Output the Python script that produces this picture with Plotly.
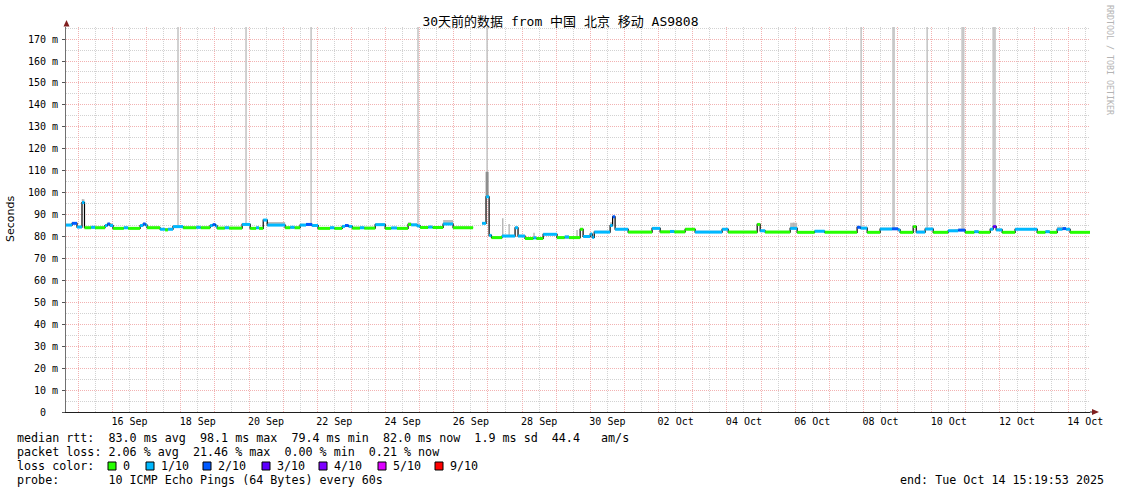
import plotly.graph_objects as go
import pandas as pd

# ---------------- data ----------------
START = "2025-09-14 15:19:53"
END = "2025-10-14 15:19:53"

# median rtt steps (segment start time, median ms, loss class index, smoke top ms)
seg_start = [
    "2025-09-14 15:20", "2025-09-14 19:35", "2025-09-14 23:05", "2025-09-15 02:35", "2025-09-15 04:20",
    "2025-09-15 09:00", "2025-09-15 11:45", "2025-09-15 18:45", "2025-09-15 20:30", "2025-09-15 22:15",
    "2025-09-16 00:25", "2025-09-16 08:00", "2025-09-16 11:00", "2025-09-16 19:25", "2025-09-16 21:30",
    "2025-09-16 23:15", "2025-09-17 00:20", "2025-09-17 09:30", "2025-09-17 13:00", "2025-09-17 15:00",
    "2025-09-17 18:35", "2025-09-18 01:40", "2025-09-18 11:00", "2025-09-18 14:00", "2025-09-18 20:40",
    "2025-09-18 22:30", "2025-09-19 00:30", "2025-09-19 01:35", "2025-09-19 07:00", "2025-09-19 10:00",
    "2025-09-19 19:10", "2025-09-20 00:50", "2025-09-20 05:00", "2025-09-20 07:00", "2025-09-20 10:00",
    "2025-09-20 12:50", "2025-09-21 01:25", "2025-09-21 05:00", "2025-09-21 08:00", "2025-09-21 11:55",
    "2025-09-21 16:05", "2025-09-21 20:20", "2025-09-22 00:35", "2025-09-22 09:00", "2025-09-22 12:00",
    "2025-09-22 17:30", "2025-09-22 19:30", "2025-09-22 22:00", "2025-09-23 00:35", "2025-09-23 06:00",
    "2025-09-23 09:00", "2025-09-23 16:45", "2025-09-23 23:45", "2025-09-24 04:00", "2025-09-24 08:00",
    "2025-09-24 15:50", "2025-09-24 18:00", "2025-09-24 22:10", "2025-09-25 00:20", "2025-09-25 06:00",
    "2025-09-25 09:00", "2025-09-25 16:30", "2025-09-25 23:30", "2025-09-26 13:35", "2025-09-26 19:55",
    "2025-09-26 22:40", "2025-09-27 00:50", "2025-09-27 02:30", "2025-09-27 09:55", "2025-09-27 19:05",
    "2025-09-27 21:10", "2025-09-28 02:05", "2025-09-28 08:00", "2025-09-28 10:00", "2025-09-28 14:50",
    "2025-09-29 00:35", "2025-09-29 06:00", "2025-09-29 09:00", "2025-09-29 16:50", "2025-09-29 18:55",
    "2025-09-29 23:55", "2025-09-30 01:20", "2025-09-30 02:45", "2025-09-30 13:55", "2025-09-30 15:40",
    "2025-09-30 17:25", "2025-10-01 02:35", "2025-10-01 19:25", "2025-10-02 01:05", "2025-10-02 08:00",
    "2025-10-02 11:00", "2025-10-02 18:40", "2025-10-03 01:40", "2025-10-03 20:40", "2025-10-04 00:55",
    "2025-10-04 21:20", "2025-10-04 23:25", "2025-10-05 02:55", "2025-10-05 20:30", "2025-10-06 01:25",
    "2025-10-06 13:45", "2025-10-06 20:45", "2025-10-07 19:35", "2025-10-07 22:00", "2025-10-08 02:40",
    "2025-10-08 11:45", "2025-10-08 20:10", "2025-10-09 00:25", "2025-10-09 01:50", "2025-10-09 11:00",
    "2025-10-09 13:10", "2025-10-09 19:25", "2025-10-10 01:05", "2025-10-10 11:35", "2025-10-10 18:40",
    "2025-10-10 23:35", "2025-10-11 06:00", "2025-10-11 09:00", "2025-10-11 17:10", "2025-10-11 19:15",
    "2025-10-11 21:20", "2025-10-12 01:35", "2025-10-12 10:40", "2025-10-13 02:10", "2025-10-13 08:00",
    "2025-10-13 11:00", "2025-10-13 16:15", "2025-10-13 20:00", "2025-10-13 22:30", "2025-10-14 01:20",
]
seg_median = [
    85.2, 86.0, 84.3, 95.5, 84.0,
    84.2, 84.0, 85.0, 85.7, 85.0,
    83.7, 84.0, 83.7, 85.0, 85.7,
    85.2, 84.0, 83.3, 83.0, 83.3,
    84.5, 84.0, 84.2, 84.0, 85.0,
    85.4, 84.8, 83.8, 84.0, 83.8,
    85.5, 83.7, 84.0, 83.7, 87.5,
    85.2, 84.0, 84.2, 84.0, 85.2,
    85.5, 85.0, 83.7, 84.0, 83.7,
    84.6, 85.0, 84.6, 83.8, 84.0,
    83.8, 85.4, 83.7, 83.9, 83.7,
    85.5, 85.3, 84.8, 84.1, 84.3,
    84.1, 85.7, 84.0, None, 86.0,
    98.1, 80.5, 79.5, 80.2, 84.0,
    80.2, 79.1, 79.4, 79.1, 81.0,
    79.5, 79.8, 79.5, 83.3, 80.0,
    81.1, 79.6, 82.0, 85.0, 89.0,
    83.3, 82.0, 83.7, 82.1, 82.3,
    82.1, 83.3, 82.0, 83.3, 82.0,
    85.5, 82.6, 82.0, 83.7, 81.9,
    82.4, 81.9, 84.2, 83.8, 81.9,
    83.4, 83.5, 83.0, 81.9, 84.5,
    82.0, 83.4, 81.9, 82.6, 82.9,
    81.9, 82.2, 81.9, 83.3, 84.5,
    83.0, 81.9, 83.3, 81.9, 82.2,
    81.9, 83.3, 83.6, 83.3, 81.9,
]
seg_loss = [
    1, 2, 1, 1, 0,
    1, 0, 1, 2, 1,
    0, 1, 0, 1, 2,
    1, 0, 1, 0, 1,
    1, 0, 1, 0, 1,
    2, 1, 0, 1, 0,
    1, 0, 1, 0, 1,
    1, 0, 1, 0, 1,
    2, 1, 0, 1, 0,
    1, 2, 1, 0, 1,
    0, 1, 0, 1, 0,
    0, 1, 1, 0, 1,
    0, 1, 0, 0, 1,
    1, 1, 0, 1, 1,
    1, 0, 1, 0, 1,
    0, 1, 0, 0, 1,
    1, 1, 1, 1, 2,
    1, 0, 1, 0, 1,
    0, 0, 1, 1, 0,
    0, 1, 0, 1, 0,
    1, 0, 2, 1, 0,
    1, 2, 1, 0, 0,
    1, 1, 0, 1, 2,
    0, 1, 0, 1, 3,
    1, 0, 1, 0, 1,
    0, 1, 2, 1, 0,
]
seg_smoke = [
    85.8, 86.6, 85.0, 97.0, 84.6,
    84.8, 84.6, 85.6, 86.3, 86.0,
    84.3, 84.6, 84.3, 85.6, 86.3,
    85.8, 84.6, 83.9, 83.6, 83.9,
    85.1, 84.6, 84.8, 84.6, 85.6,
    86.0, 85.4, 84.4, 84.6, 84.4,
    86.1, 84.3, 84.6, 84.3, 88.0,
    86.6, 84.6, 84.8, 84.6, 85.8,
    86.1, 85.6, 84.3, 84.6, 84.3,
    85.2, 85.6, 85.2, 84.4, 84.6,
    84.4, 86.0, 84.3, 84.5, 84.3,
    86.5, 85.9, 85.4, 84.7, 84.9,
    84.7, 87.5, 84.6, None, 86.6,
    99.0, 81.1, 80.1, 80.8, 84.6,
    80.8, 79.7, 80.0, 79.7, 81.6,
    80.1, 80.4, 80.1, 83.9, 80.6,
    81.7, 80.2, 82.6, 86.5, 89.5,
    83.9, 82.6, 84.3, 82.7, 82.9,
    82.7, 83.9, 82.6, 83.9, 82.6,
    86.0, 83.2, 82.6, 86.3, 82.5,
    83.0, 82.5, 84.8, 84.4, 82.5,
    84.0, 84.1, 83.6, 82.5, 85.0,
    82.6, 84.0, 82.5, 83.2, 83.5,
    82.5, 82.8, 82.5, 83.9, 85.1,
    83.6, 82.5, 83.9, 82.5, 82.8,
    82.5, 84.5, 84.2, 83.9, 82.5,
]

# smoke spikes that run off the top of the graph
tall_time = ["2025-09-17 22:05", "2025-09-19 21:55", "2025-09-21 19:40", "2025-09-24 22:50",
             "2025-09-26 23:25", "2025-10-07 22:25", "2025-10-08 20:50", "2025-10-08 21:35",
             "2025-10-09 20:50", "2025-10-10 21:25", "2025-10-10 22:30", "2025-10-11 19:15",
             "2025-10-11 19:55", "2025-10-11 20:35"]
tall_lo = [84.5, 85.5, 85.5, 85.0, 98.1, 84.2, 83.5, 83.5, 83.4, 82.9, 82.9, 84.5, 84.5, 84.0]
tall_hi = [190, 190, 190, 190, 190, 190, 190, 190, 190, 190, 190, 190, 190, 190]

# shorter smoke spikes
part_time = ["2025-09-27 10:25", "2025-09-27 14:55", "2025-09-28 08:25", "2025-09-29 14:40",
             "2025-10-05 22:55", "2025-09-15 02:55"]
part_lo = [80.2, 80.2, 79.1, 79.5, 83.7, 95.5]
part_hi = [88.3, 85.7, 81.7, 83.0, 86.3, 97.0]

# darker smoke in the big spike
dark_time = ["2025-09-26 23:25"]
dark_lo = [98.1]
dark_hi = [109.5]

loss_labels = ["0", "1/10", "2/10", "3/10", "4/10", "5/10", "9/10"]
loss_colors = ["#26ff00", "#00b8ff", "#0059ff", "#5e00ff", "#7e00ff", "#dd00ff", "#ff0000"]

y_tick_vals = [0, 10, 20, 30, 40, 50, 60, 70, 80, 90, 100, 110, 120, 130, 140, 150, 160, 170]
y_tick_text = ["0\u00a0\u00a0", "10 m", "20 m", "30 m", "40 m", "50 m", "60 m", "70 m", "80 m",
               "90 m", "100 m", "110 m", "120 m", "130 m", "140 m", "150 m", "160 m", "170 m"]
x_label_text = ["16 Sep", "18 Sep", "20 Sep", "22 Sep", "24 Sep", "26 Sep", "28 Sep", "30 Sep",
                "02 Oct", "04 Oct", "06 Oct", "08 Oct", "10 Oct", "12 Oct", "14 Oct"]
x_label_pos = ["2025-09-16 12:00", "2025-09-18 12:00", "2025-09-20 12:00", "2025-09-22 12:00",
               "2025-09-24 12:00", "2025-09-26 12:00", "2025-09-28 12:00", "2025-09-30 12:00",
               "2025-10-02 12:00", "2025-10-04 12:00", "2025-10-06 12:00", "2025-10-08 12:00",
               "2025-10-10 12:00", "2025-10-12 12:00", "2025-10-14 12:00"]

median_avg, median_max, median_min, median_now, median_sd, am_s = 83.0, 98.1, 79.4, 82.0, 1.9, 44.4
loss_avg, loss_max, loss_min, loss_now = 2.06, 21.46, 0.00, 0.21

TITLE = "30天前的数据 from 中国 北京 移动 AS9808"
END_TEXT = "end: Tue Oct 14 15:19:53 2025"
PROBE_TEXT = "10 ICMP Echo Pings (64 Bytes) every 60s"

# ---------------- figure ----------------
MONO = "DejaVu Sans Mono, Noto Sans CJK SC, monospace"
W, H = 1121, 494
L, R, T, B = 66, 31, 27, 82
PW, PH = W - L - R, H - T - B


def px(x):
    return (x - L) / PW


def py(y):
    return (T + PH - y) / PH


seg_end = seg_start[1:] + [END]
fig = go.Figure()

# smoke around the median
sx, sy = [], []
for s, e, m, h in zip(seg_start, seg_end, seg_median, seg_smoke):
    if m is None:
        continue
    sx += [s, e, e, s, s, None]
    sy += [m, m, h, h, m, None]
fig.add_trace(go.Scatter(x=sx, y=sy, mode="lines", fill="toself", fillcolor="#bcbcbc",
                         line=dict(width=0), hoverinfo="skip"))


def vlines(times, lo, hi):
    xs, ys = [], []
    for t, a, b in zip(times, lo, hi):
        xs += [t, t, None]
        ys += [a, b, None]
    return xs, ys


tx, ty = vlines(tall_time, tall_lo, tall_hi)
fig.add_trace(go.Scatter(x=tx, y=ty, mode="lines", line=dict(color="#c6c6c6", width=1.6),
                         hoverinfo="skip"))
px_, py_ = vlines(part_time, part_lo, part_hi)
fig.add_trace(go.Scatter(x=px_, y=py_, mode="lines", line=dict(color="#b4b4b4", width=1.4),
                         hoverinfo="skip"))
dx, dy = vlines(dark_time, dark_lo, dark_hi)
fig.add_trace(go.Scatter(x=dx, y=dy, mode="lines", line=dict(color="#8e8e8e", width=3),
                         hoverinfo="skip"))

# black median outline
bx, by = [], []
for s, e, m in zip(seg_start, seg_end, seg_median):
    if m is None:
        bx.append(None)
        by.append(None)
        continue
    bx += [s, e]
    by += [m, m]
fig.add_trace(go.Scatter(x=bx, y=by, mode="lines", line=dict(color="#000000", width=1.2),
                         connectgaps=False, hoverinfo="skip"))

# loss-coloured median
for k, col in enumerate(loss_colors):
    cx, cy = [], []
    for s, e, m, l in zip(seg_start, seg_end, seg_median, seg_loss):
        if m is None or l != k:
            continue
        cx += [s, e, None]
        cy += [m, m, None]
    if cx:
        fig.add_trace(go.Scatter(x=cx, y=cy, mode="lines", line=dict(color=col, width=3),
                                 hoverinfo="skip"))

# dummy trace for the label axis
fig.add_trace(go.Scatter(x=[START], y=[None], xaxis="x2", mode="markers",
                         marker=dict(opacity=0), hoverinfo="skip"))

midnights = [d.strftime("%Y-%m-%d %H:%M") for d in pd.date_range("2025-09-15", "2025-10-14", freq="D")]
noons = [d.strftime("%Y-%m-%d %H:%M") for d in pd.date_range("2025-09-14 12:00", "2025-10-14 12:00", freq="D")]

MGRID = "#f2b2b2"
GRID = "#d2d2d2"
DOT = "1px,1px"

fig.update_layout(
    width=W, height=H,
    margin=dict(l=L, r=R, t=T, b=B),
    paper_bgcolor="white", plot_bgcolor="white",
    showlegend=False, hovermode=False,
    font=dict(family=MONO, size=10, color="#000000"),
    title=dict(text=TITLE, x=0.5, xref="container", xanchor="center",
               y=1 - 21 / H, yref="container", yanchor="middle",
               font=dict(family=MONO, size=13, color="#000000")),
    xaxis=dict(type="date", range=[START, END], tickmode="array", tickvals=midnights,
               showticklabels=False, ticks="", showgrid=True, gridcolor=MGRID, griddash=DOT,
               gridwidth=1, zeroline=False, showline=True, linecolor="#1f1f1f", linewidth=1,
               minor=dict(tickmode="array", tickvals=noons, showgrid=True, gridcolor=GRID,
                          griddash=DOT, gridwidth=1, ticks="")),
    xaxis2=dict(type="date", range=[START, END], overlaying="x", matches="x", anchor="y", side="bottom",
                tickmode="array", tickvals=x_label_pos, ticktext=x_label_text,
                showgrid=False, zeroline=False, showline=False, ticks="",
                tickfont=dict(family=MONO, size=10), ticklabelstandoff=2),
    yaxis=dict(range=[0, 175.5], tickmode="array", tickvals=y_tick_vals, ticktext=y_tick_text,
               showgrid=True, gridcolor=MGRID, griddash=DOT, gridwidth=1, zeroline=False,
               showline=True, linecolor="#707070", linewidth=1, ticks="outside", ticklen=3,
               tickcolor="#555555", tickfont=dict(family=MONO, size=10), ticklabelstandoff=2,
               minor=dict(dtick=5, showgrid=True, gridcolor=GRID, griddash=DOT, gridwidth=1,
                          ticks="")),
)

ARROW = "#801f1f"
shapes = [
    # arrow heads on the axes
    dict(type="path", xref="paper", yref="paper",
         path=f"M {px(66.5)},{py(20)} L {px(63.5)},{py(26.5)} L {px(69.5)},{py(26.5)} Z",
         fillcolor=ARROW, line=dict(width=0)),
    dict(type="line", xref="paper", yref="paper", x0=1, x1=px(1093), y0=0, y1=0,
         line=dict(color="#1f1f1f", width=1)),
    dict(type="path", xref="paper", yref="paper",
         path=f"M {px(1099)},{py(412)} L {px(1092)},{py(409)} L {px(1092)},{py(415)} Z",
         fillcolor=ARROW, line=dict(width=0)),
]

box_x = [108, 146, 203, 262, 319, 378, 435]
for bxp, col in zip(box_x, loss_colors):
    shapes.append(dict(type="rect", xref="paper", yref="paper",
                       x0=px(bxp), x1=px(bxp + 8), y0=py(470), y1=py(462),
                       fillcolor=col, line=dict(color="#000000", width=1)))
fig.update_layout(shapes=shapes)


def nb(s):
    return s.replace(" ", "\u00a0")


LEG = dict(family=MONO, size=11.7, color="#000000")
line1 = (f"median rtt:  {median_avg:.1f} ms avg  {median_max:.1f} ms max  {median_min:.1f} ms min  "
         f"{median_now:.1f} ms now  {median_sd:.1f} ms sd  {am_s:.1f}   am/s")
line2 = (f"packet loss: {loss_avg:.2f} % avg  {loss_max:.2f} % max  {loss_min:.2f} % min  "
         f"{loss_now:.2f} % now")
line4 = f"probe:       {PROBE_TEXT}"

ann = [
    dict(text=nb(line1), x=px(15), y=py(438)),
    dict(text=nb(line2), x=px(15), y=py(452)),
    dict(text=nb("loss color:"), x=px(15), y=py(466)),
    dict(text=nb(line4), x=px(15), y=py(480)),
]
for a in ann:
    a.update(xref="paper", yref="paper", xanchor="left", yanchor="middle", showarrow=False, font=LEG)
    fig.add_annotation(**a)
for bxp, lab in zip(box_x, loss_labels):
    fig.add_annotation(text=lab, x=px(bxp + 13), y=py(466), xref="paper", yref="paper",
                       xanchor="left", yanchor="middle", showarrow=False, font=LEG)
fig.add_annotation(text=nb(END_TEXT), x=px(1106), y=py(480), xref="paper", yref="paper",
                   xanchor="right", yanchor="middle", showarrow=False, font=LEG)
fig.add_annotation(text="Seconds", x=px(10), y=py(219), xref="paper", yref="paper",
                   xanchor="center", yanchor="middle", textangle=-90, showarrow=False,
                   font=dict(family="DejaVu Sans", size=11, color="#000000"))
fig.add_annotation(text=nb("RRDTOOL / TOBI OETIKER"), x=px(1110), y=py(60), xref="paper", yref="paper",
                   xanchor="center", yanchor="middle", textangle=90, showarrow=False,
                   font=dict(family=MONO, size=8.3, color="#b4b4b4"))

fig.write_html("out.html", config={"displayModeBar": False, "staticPlot": True},
               post_script="document.body.style.margin='0px';")
